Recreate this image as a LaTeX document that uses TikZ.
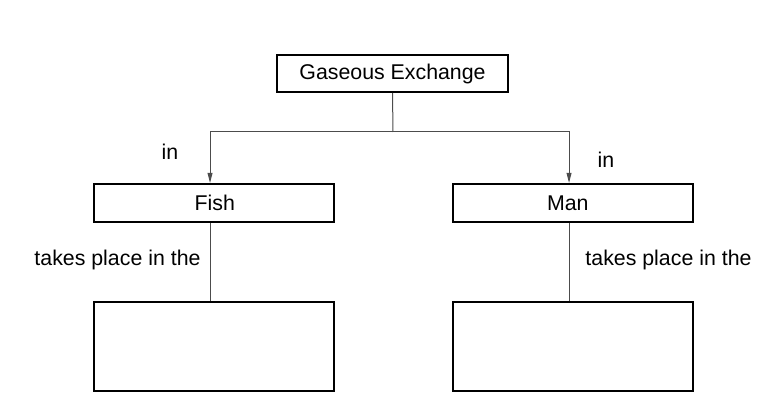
\documentclass[tikz,border=0pt]{standalone}
\usepackage{fontspec}
\setmainfont{Liberation Sans}
\usetikzlibrary{arrows.meta}
\begin{document}
\begin{tikzpicture}[x=0.75pt,y=-0.75pt,
  box/.style={draw=black,line width=1.5pt,rectangle,inner sep=0pt,font=\fontsize{16}{19}\selectfont},
  conn/.style={draw=black!70,line width=0.75pt},
  tip/.style={-{Triangle[length=7.5pt,width=3.6pt]}},
  lbl/.style={font=\fontsize{16}{19}\selectfont,inner sep=0pt}]
\useasboundingbox (0,0) rectangle (775,406);
\node[box,minimum width=173pt,minimum height=27.75pt] (top) at (392.5,73.5) {Gaseous Exchange};
\node[box,minimum width=180pt,minimum height=28.5pt] (fish) at (213.5,203) {\hspace*{2pt}Fish};
\node[box,minimum width=180pt,minimum height=28.5pt] (man) at (572.5,203) {\hspace*{-7pt}Man};
\node[box,minimum width=180pt,minimum height=66.75pt] (fishb) at (213.5,346.5) {};
\node[box,minimum width=180pt,minimum height=66.75pt] (manb) at (572.5,346.5) {};
\coordinate (jt) at (393,132);
\draw[conn] (top.south) -- (jt);
\draw[conn,tip] (jt) -| ([xshift=-2.6pt]fish.north);
\draw[conn,tip] (jt) -| ([xshift=-2.6pt]man.north);
\draw[conn] ([xshift=-2.6pt]fish.south) -- ([xshift=-2.6pt]fishb.north);
\draw[conn] ([xshift=-2.6pt]man.south) -- ([xshift=-2.6pt]manb.north);
\node[lbl] (inl) at (170,152) {in};
\node[lbl] (inr) at (606,160) {in};
\node[lbl] (tl) at (117.5,260) {takes place in the};
\node[lbl] (tr) at (668.5,260) {takes place in the};
\end{tikzpicture}
\end{document}
